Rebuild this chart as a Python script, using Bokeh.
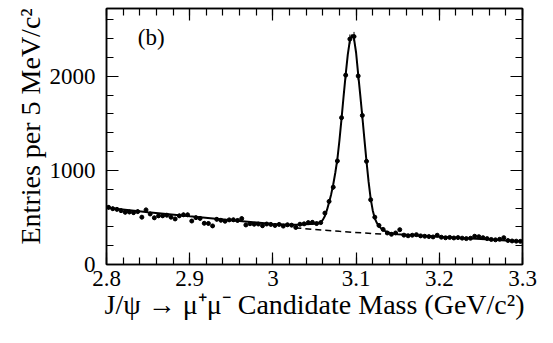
import numpy as np
from bokeh.plotting import figure
from bokeh.models import FixedTicker, LinearAxis, Label, Range1d, CustomJSTickFormatter, Title
from bokeh.embed import file_html
from bokeh.resources import INLINE

# ---- data ----
bin_lo = 2.8
bin_width = 0.005
counts = [607, 593, 586, 572, 555, 558, 551, 562, 503, 580,
          537, 496, 517, 517, 524, 503, 484, 517, 528, 528,
          462, 498, 490, 438, 436, 410, 480, 470, 460, 474,
          475, 468, 488, 420, 433, 428, 430, 412, 430, 426,
          415, 426, 408, 422, 418, 394, 428, 432, 445, 448,
          435, 445, 546, 670, 822, 1100, 1560, 2012, 2395, 2422,
          2003, 1584, 1096, 688, 503, 415, 373, 335, 321, 335,
          370, 312, 305, 311, 317, 304, 300, 297, 293, 311,
          290, 284, 288, 282, 286, 280, 275, 279, 300, 296,
          285, 275, 266, 262, 268, 285, 255, 250, 248, 246]

fit_x = [2.80, 2.85, 2.90, 2.95, 3.00, 3.02, 3.03, 3.04, 3.045, 3.05,
         3.0525, 3.055, 3.0575, 3.06, 3.0625, 3.065, 3.0675, 3.07, 3.0725, 3.075,
         3.0775, 3.08, 3.0825, 3.085, 3.0875, 3.09, 3.0925, 3.095, 3.0975, 3.10,
         3.1025, 3.105, 3.1075, 3.11, 3.1125, 3.115, 3.1175, 3.12, 3.1225, 3.125,
         3.1275, 3.13, 3.1325, 3.135, 3.14, 3.145, 3.15, 3.20, 3.25, 3.30]
fit_y = [602, 556, 512, 470, 430, 423, 423, 427, 430, 434,
         437, 442, 452, 474, 515, 580, 660, 745, 850, 975,
         1120, 1320, 1550, 1790, 2020, 2230, 2380, 2440, 2400, 2250,
         2020, 1800, 1570, 1330, 1095, 880, 700, 575, 490, 440,
         405, 385, 368, 355, 338, 328, 322, 294, 270, 246]

bkg_x = [3.027, 3.08, 3.135]
bkg_y = [389, 352, 320]

x_ticks = [2.8, 2.9, 3.0, 3.1, 3.2, 3.3]
y_ticks = [0, 1000, 2000]

x_title = "J/\u03c8 \u2192 \u03bc\u207a\u03bc\u207b Candidate Mass (GeV/c\u00b2)"
y_title = "Entries per 5 MeV/c\u00b2"
panel_tag = "(b)"

# ---- derived ----
xc = bin_lo + bin_width * (np.arange(len(counts)) + 0.5)
yc = np.array(counts, dtype=float)
err = np.sqrt(yc)

FONT = "Liberation Serif"

p = figure(width=537, height=327, x_range=Range1d(2.8, 3.3), y_range=Range1d(0, 2720),
           output_backend="svg", toolbar_location=None,
           min_border_left=106, min_border_right=15, min_border_top=8, min_border_bottom=63)
p.grid.visible = False
p.outline_line_color = "black"
p.outline_line_width = 1.5
p.background_fill_color = "white"
p.border_fill_color = "white"

x_minor = [round(v, 3) for v in np.arange(2.8, 3.3001, 0.02)]
y_minor = list(range(0, 2721, 200))

def style(ax, labels=True):
    ax.major_tick_in = 12
    ax.major_tick_out = 0
    ax.minor_tick_in = 7
    ax.minor_tick_out = 0
    ax.major_tick_line_width = 1.2
    ax.minor_tick_line_width = 1.2
    ax.axis_line_width = 1.5
    ax.major_tick_line_color = "black"
    ax.minor_tick_line_color = "black"
    ax.axis_line_color = "black"
    if labels:
        ax.major_label_text_font = FONT
        ax.major_label_text_font_size = "23px"
        ax.major_label_text_color = "black"
    else:
        ax.major_label_text_font_size = "0px"
        ax.major_label_text_color = None
        ax.major_label_standoff = 0

fmt = CustomJSTickFormatter(code="return Number(tick.toFixed(2)).toString();")

xax = p.xaxis[0]
xax.ticker = FixedTicker(ticks=x_ticks, minor_ticks=x_minor)
xax.formatter = fmt
style(xax)
xax.major_label_standoff = 6
xax.axis_label = x_title
xax.axis_label_text_font = FONT
xax.axis_label_text_font_size = "28px"
xax.axis_label_text_font_style = "normal"
xax.axis_label_text_color = "black"
xax.axis_label_standoff = 0

yax = p.yaxis[0]
yax.ticker = FixedTicker(ticks=y_ticks, minor_ticks=y_minor)
style(yax)
yax.major_label_standoff = 11

top = LinearAxis(ticker=FixedTicker(ticks=x_ticks, minor_ticks=x_minor))
style(top, labels=False)
p.add_layout(top, "above")
right = LinearAxis(ticker=FixedTicker(ticks=y_ticks, minor_ticks=y_minor))
style(right, labels=False)
p.add_layout(right, "right")

ytitle = Title(text=y_title, align="left", offset=20, text_font=FONT,
               text_font_size="28px", text_font_style="normal", text_color="black",
               standoff=2)
p.add_layout(ytitle, "left")

# curves
p.line(bkg_x, bkg_y, line_color="black", line_width=1.5, line_dash="6 4")
p.line(fit_x, fit_y, line_color="black", line_width=2)
# data points
p.segment(xc, yc - err, xc, yc + err, line_color="black", line_width=1)
p.scatter(xc, yc, size=4, fill_color="black", line_color="black")

p.add_layout(Label(x=2.8376, y=2416, text=panel_tag, text_align="left",
                   text_baseline="alphabetic", text_font=FONT, text_font_size="23px",
                   text_color="black"))

open("out.html", "w").write(file_html(p, INLINE))
